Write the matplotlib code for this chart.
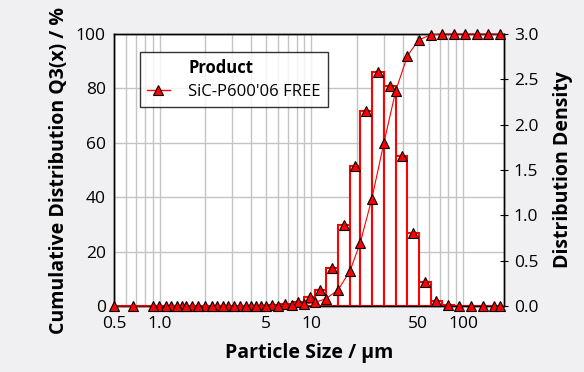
import matplotlib
matplotlib.use("Agg")
import matplotlib.pyplot as plt
from matplotlib.lines import Line2D
from matplotlib.ticker import FixedLocator, FixedFormatter, NullFormatter
import numpy as np

# class edges in µm (upper edge of each class)
edges = [0.5, 0.9, 1.1, 1.3, 1.5, 1.8, 2.2, 2.6, 3.1, 3.7, 4.3, 5.0, 6.0, 7.5,
         9.0, 10.5, 12.5, 15, 18, 21, 25, 30, 36, 43, 51, 61, 73, 87, 103,
         123, 147, 175]
# cumulative Q3 at each edge, %
q3 = [0, 0, 0, 0, 0, 0, 0, 0, 0, 0, 0.02, 0.05, 0.12, 0.3, 0.6, 1.3, 2.7,
      5.9, 13.0, 23.3, 39.3, 59.8, 79.2, 92.0, 97.8, 99.7, 100, 100, 100,
      100, 100, 100]
# distribution density per class
dens = [0, 0, 0, 0, 0, 0, 0, 0, 0, 0, 0.005, 0.01, 0.02, 0.04, 0.10, 0.18,
        0.42, 0.89, 1.54, 2.15, 2.58, 2.43, 1.65, 0.80, 0.26, 0.05, 0.01, 0,
        0, 0, 0]

xticks = [0.5, 1.0, 5, 10, 50, 100]
xticklabels = ["0.5", "1.0", "5", "10", "50", "100"]
xgrid = [0.6, 0.7, 0.8, 0.9, 1, 2, 3, 4, 5, 6, 7, 8, 9, 10,
         20, 30, 40, 50, 60, 70, 80, 90, 100]
series_name = "SiC-P600'06 FREE"

plt.rcParams["font.family"] = ["Open Sans", "DejaVu Sans"]
red = "#ff0000"
msize = 7.5

fig = plt.figure(figsize=(5.84, 3.72), dpi=100, facecolor="#f0f0f2")
ax = fig.add_axes([0.1952, 0.1774, 0.6678, 0.7312])
ax2 = ax.twinx()

ax.set_xscale("log")
ax.set_xlim(0.5, 186)
ax.set_ylim(0, 100)
ax2.set_ylim(0, 3.0)

ax.xaxis.set_major_locator(FixedLocator(xticks))
ax.xaxis.set_major_formatter(FixedFormatter(xticklabels))
ax.xaxis.set_minor_locator(FixedLocator(xgrid))
ax.xaxis.set_minor_formatter(NullFormatter())
ax.set_yticks([0, 20, 40, 60, 80, 100])
ax2.set_yticks([0, 0.5, 1.0, 1.5, 2.0, 2.5, 3.0])
ax2.set_yticklabels(["0.0", "0.5", "1.0", "1.5", "2.0", "2.5", "3.0"])

ax.grid(True, which="both", axis="x", color="#c4c4c4", lw=1)
ax.grid(True, which="major", axis="y", color="#c4c4c4", lw=1)
ax.set_axisbelow(True)

ax.tick_params(axis="x", which="major", direction="in", length=0, pad=7,
               labelsize=12.5, top=False)
ax.tick_params(axis="x", which="minor", direction="in", length=0, top=False)
ax.tick_params(axis="y", length=0, pad=6, labelsize=12.5)
ax2.tick_params(axis="y", direction="inout", length=6, pad=4, labelsize=12.5)

for a in (ax, ax2):
    for s in a.spines.values():
        s.set_color("black")
        s.set_linewidth(1)

# density bars
e = np.array(edges)
ax2.bar(e[:-1], dens, width=e[1:] - e[:-1], align="edge", color="white",
        edgecolor=red, linewidth=1.5, zorder=2)
centers = list(np.sqrt(e[:-1] * e[1:])) + [edges[-1]]
ax2.plot(centers, dens + [0], linestyle="none", marker="^", markersize=msize,
         markerfacecolor=red, markeredgecolor="black", markeredgewidth=0.8,
         clip_on=False, zorder=4)

# cumulative curve, drawn in left-axis coordinates on top of bars
ax2.plot(edges, q3, color=red, lw=0.8, marker="^", markersize=msize,
         markerfacecolor=red, markeredgecolor="black", markeredgewidth=0.8,
         transform=ax.transData, clip_on=False, zorder=5)

ax.set_xlabel("Particle Size / µm", fontsize=14, fontweight="bold", labelpad=8)
ax.set_ylabel("Cumulative Distribution Q3(x) / %", fontsize=14,
              fontweight="bold", labelpad=5)
ax2.set_ylabel("Distribution Density", fontsize=14, fontweight="bold",
               labelpad=11)

handles = [Line2D([], [], linestyle="none", marker="none"),
           Line2D([], [], color=red, lw=1, marker="^", markersize=msize,
                  markerfacecolor=red, markeredgecolor="black",
                  markeredgewidth=0.8)]
leg = ax2.legend(handles, ["Product", series_name], loc="upper left",
                 bbox_to_anchor=(0.067, 0.934), borderaxespad=0, fontsize=12,
                 frameon=True, fancybox=False, edgecolor="black",
                 handlelength=1.4, handletextpad=1.1, labelspacing=0.45,
                 borderpad=0.4)
leg.get_frame().set_linewidth(1)
leg.get_texts()[0].set_fontweight("bold")
leg.set_zorder(10)

fig.savefig("out.png", dpi=100, facecolor=fig.get_facecolor())
